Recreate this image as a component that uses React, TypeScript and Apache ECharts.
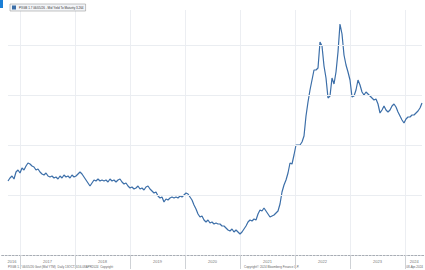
import React, { useEffect, useRef } from "react";
import * as echarts from "echarts";

const SERIES_NAME = "PXGB 1.7 06/05/26 - Mid Yield To Maturity 3.264";
const START_DATE = "2016-10-13";
const STEP_DAYS = 13.28;

const YIELDS = [
  1.28, 1.34, 1.38, 1.32, 1.46, 1.5, 1.44, 1.54, 1.5, 1.58,
  1.64, 1.62, 1.58, 1.56, 1.5, 1.52, 1.46, 1.42, 1.4, 1.44,
  1.38, 1.36, 1.38, 1.34, 1.36, 1.32, 1.38, 1.34, 1.4, 1.36,
  1.38, 1.34, 1.4, 1.36, 1.38, 1.42, 1.46, 1.42, 1.36, 1.3,
  1.24, 1.18, 1.24, 1.3, 1.28, 1.32, 1.28, 1.3, 1.28, 1.3,
  1.26, 1.32, 1.28, 1.3, 1.26, 1.3, 1.32, 1.26, 1.22, 1.24,
  1.18, 1.14, 1.16, 1.12, 1.14, 1.18, 1.12, 1.14, 1.1, 1.16,
  1.18, 1.12, 1.08, 1.04, 1.06, 0.98, 0.94, 0.96, 0.86, 0.92,
  0.9, 0.94, 0.96, 0.94, 0.96, 0.94, 0.98, 0.96, 1.0, 1.04,
  1.02, 0.96, 0.9, 0.8, 0.72, 0.62, 0.56, 0.58, 0.5, 0.46,
  0.5, 0.44, 0.46, 0.42, 0.44, 0.42, 0.42, 0.38, 0.38, 0.34,
  0.3, 0.28, 0.32, 0.26, 0.3, 0.26, 0.22, 0.26, 0.32, 0.38,
  0.46, 0.5, 0.48, 0.52, 0.5, 0.62, 0.7, 0.68, 0.74, 0.68,
  0.62, 0.56, 0.58, 0.6, 0.64, 0.68, 0.82, 1.06, 1.2, 1.3,
  1.44, 1.64, 1.62, 1.8, 2.0, 2.0, 2.0, 2.06, 2.18, 2.58,
  2.86, 3.1, 3.3, 3.5, 3.5, 3.54, 4.06, 3.98, 3.58, 3.34,
  2.94, 2.98, 3.34, 3.22, 3.46, 3.86, 4.42, 4.22, 3.8, 3.6,
  3.46, 3.3, 2.96, 2.98, 3.1, 3.3, 3.2, 3.06, 3.0, 3.06,
  3.02, 2.98, 2.94, 2.9, 2.92, 2.82, 2.64, 2.7, 2.78, 2.7,
  2.66, 2.7, 2.78, 2.82, 2.76, 2.66, 2.58, 2.5, 2.44, 2.52,
  2.56, 2.56, 2.6, 2.6, 2.64, 2.68, 2.74, 2.84,
];

// months since Jan 2016
const YEAR_TICKS = [12, 24, 36, 48, 60, 72, 84, 96];
const YEAR_LABEL_POS = [10.25, 18, 30, 42, 54, 66, 78, 90, 98];
const GRID_LEVELS = [1, 2, 3, 4];

const FOOTER_LEFT = "PXGB 1.7 06/05/26 Govt (Mid YTM)  Daily 13OCT2016-08APR2024  Copyright";
const FOOTER_MID = "Copyright\u00A9 2024 Bloomberg Finance L.P.";
const FOOTER_RIGHT = "08-Apr-2024";

const LINE_COLOR = "#3b6ea8";

export default function App() {
  const ref = useRef<HTMLDivElement>(null);
  useEffect(() => {
    const chart = echarts.init(ref.current!, null, { renderer: "svg" });
    const start = Date.parse(START_DATE + "T00:00:00Z");
    const dates = YIELDS.map((_, i) =>
      new Date(start + Math.round(i * STEP_DAYS) * 86400000).toISOString().slice(0, 10)
    );
    chart.setOption({
      animation: false,
      backgroundColor: "#ffffff",
      legend: {
        left: 10,
        top: 4,
        padding: [1.5, 2, 1.5, 2],
        borderColor: "#9a9a9a",
        borderWidth: 0.6,
        backgroundColor: "#f3f5f8",
        itemWidth: 4,
        itemHeight: 4,
        itemGap: 0,
        icon: "rect",
        textStyle: { fontSize: 3, color: "#333", fontFamily: "Liberation Sans", padding: [0, 0, 0, -2] },
        data: [SERIES_NAME],
      },
      grid: [
        { left: 8, right: 3, top: 10, bottom: 15 },
        { left: 1.667, right: 0, top: 10, bottom: 15 },
      ],
      xAxis: [
        { type: "category", gridIndex: 0, data: dates, boundaryGap: false, show: false },
        {
          type: "value",
          gridIndex: 1,
          min: 8,
          max: 100.364,
          interval: 2,
          position: "bottom",
          axisLine: { show: true, lineStyle: { color: "#a8adb5", type: [2, 1.5], width: 1 } },
          axisTick: {
            show: true,
            customValues: YEAR_TICKS,
            length: 14,
            lineStyle: { color: "#cfd2d6", width: 1 },
          },
          axisLabel: {
            show: true,
            customValues: YEAR_LABEL_POS,
            formatter: (v: number) => String(2016 + Math.floor(v / 12)),
            fontSize: 4,
            color: "#777",
            margin: 4,
            fontFamily: "Liberation Sans",
          },
          splitLine: { show: true, lineStyle: { color: "#eceef2", width: 1 } },
        },
      ],
      yAxis: [
        { type: "value", gridIndex: 0, min: -0.2, max: 4.7, show: false },
        { type: "value", gridIndex: 1, min: 0, max: 1, show: false },
      ],
      series: [
        {
          type: "line",
          name: SERIES_NAME,
          xAxisIndex: 0,
          yAxisIndex: 0,
          data: YIELDS,
          symbol: "none",
          showSymbol: false,
          lineStyle: { color: LINE_COLOR, width: 1.2 },
          itemStyle: { color: LINE_COLOR },
          markLine: {
            silent: true,
            symbol: "none",
            label: { show: false },
            lineStyle: { color: "#eaedf1", type: "solid", width: 1 },
            data: GRID_LEVELS.map((v) => ({ yAxis: v })),
          },
        },
      ],
      graphic: [
        { type: "rect", shape: { x: 0, y: 0, width: 3, height: 8 }, style: { fill: "#1b7fd6" } },
        {
          type: "text",
          left: 8,
          top: 265,
          style: { text: FOOTER_LEFT, fontSize: 3, fill: "#666", fontFamily: "Liberation Sans" },
        },
        {
          type: "text",
          left: 244,
          top: 265,
          style: { text: FOOTER_MID, fontSize: 3, fill: "#666", fontFamily: "Liberation Sans" },
        },
        {
          type: "text",
          right: 2,
          top: 265,
          style: { text: FOOTER_RIGHT, fontSize: 3, fill: "#666", fontFamily: "Liberation Sans" },
        },
      ],
    });
    return () => chart.dispose();
  }, []);
  return (
    <div
      ref={ref}
      style={{ position: "fixed", left: 0, top: 0, width: 425, height: 270 }}
    />
  );
}
